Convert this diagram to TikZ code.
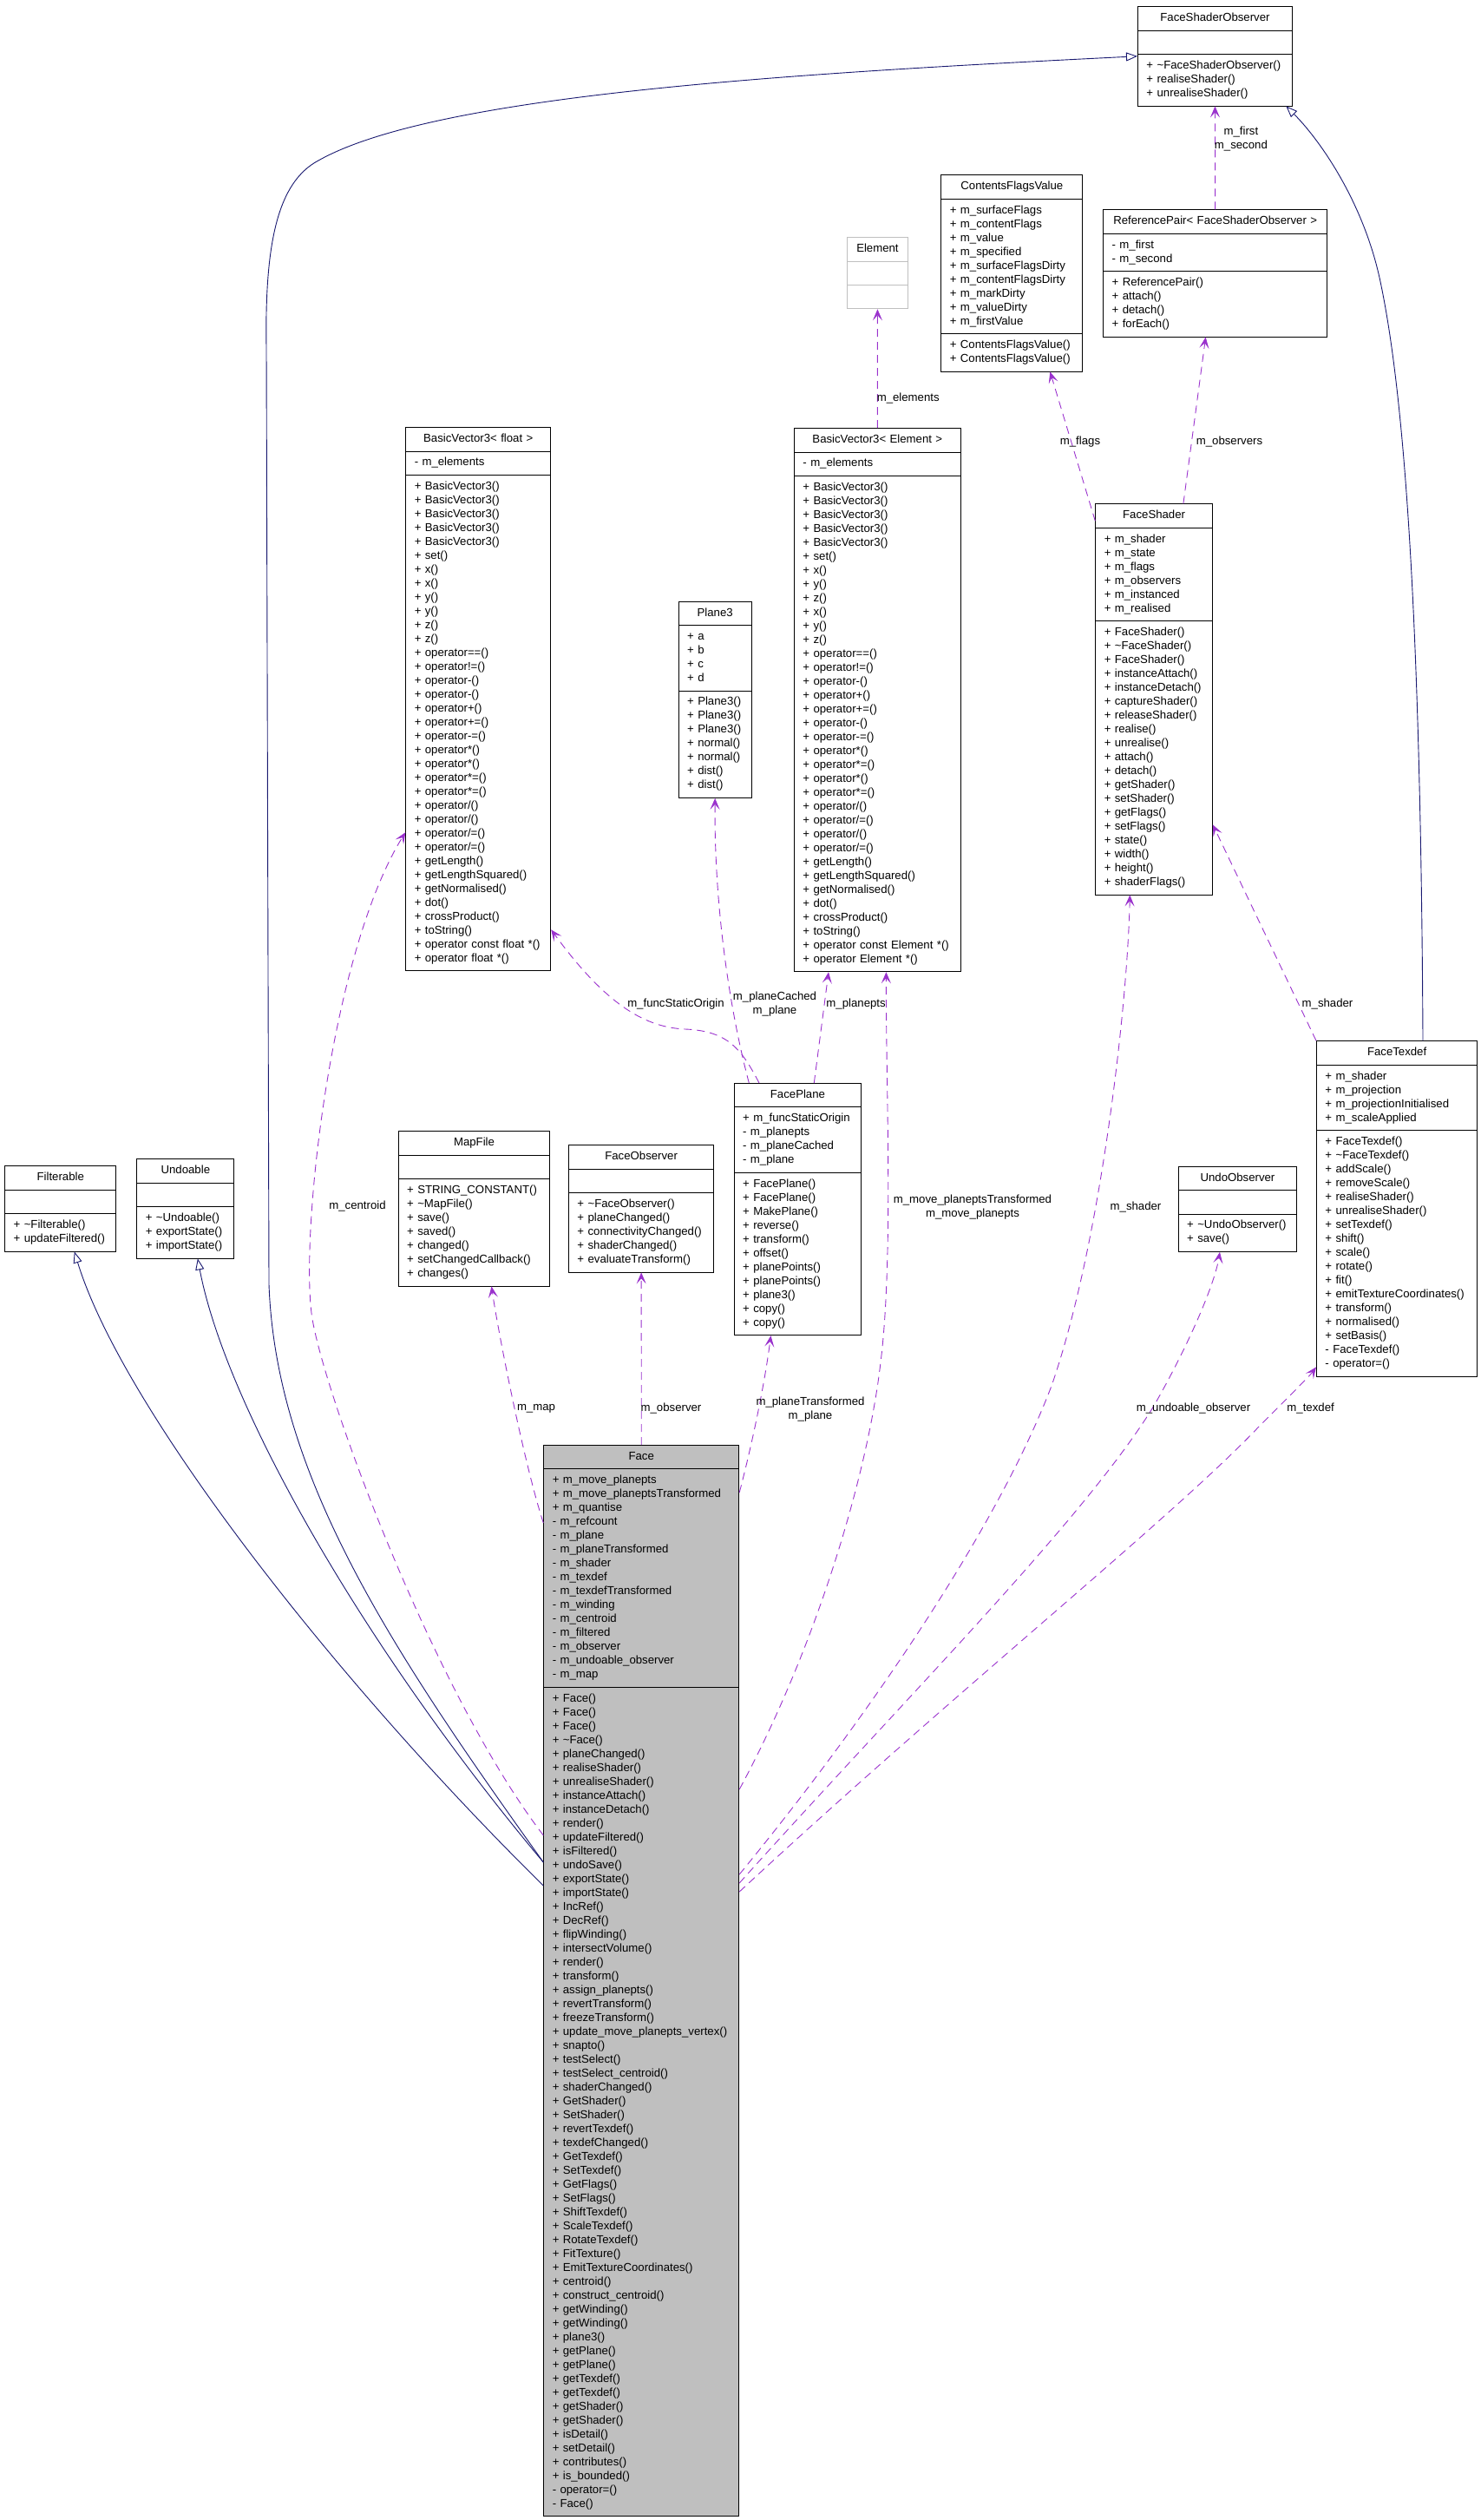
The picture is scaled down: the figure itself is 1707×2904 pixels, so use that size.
\documentclass[tikz,border=0pt]{standalone}
\usepackage{fontspec}
\setmainfont{Liberation Sans}
\usepackage{tikz}
\usetikzlibrary{arrows.meta,shapes.multipart}
\definecolor{navyline}{HTML}{191970}
\definecolor{usecol}{HTML}{9A32CD}
\definecolor{facegray}{HTML}{BFBFBF}

\begin{document}
\begin{tikzpicture}[
  x=1pt,y=-1pt,
  font=\fontsize{13.2}{16}\selectfont,
  cls/.style={rectangle split,rectangle split parts=3,draw=black,line width=0.9pt,
    inner xsep=10pt,inner ysep=5.25pt,align=left,anchor=north west,
    every text node part/.style={align=center},
    execute at begin node=\strut,execute at end node=\strut},
  ghost/.style={cls,draw=facegray},
  base/.style={cls,fill=facegray},
  lbl/.style={inner sep=0pt,align=center},
  inh/.style={draw=navyline,line width=0.9pt,-{Triangle[open,length=13pt,width=10pt]}},
  dep/.style={draw=usecol,line width=0.9pt,dash pattern=on 9pt off 6pt,-{Stealth[length=13pt,width=11pt,inset=6pt]}}
]
\useasboundingbox (0,0) rectangle (1707,2904);

% classes
\node[cls,text width=158pt] (fso) at (1311,7.3) {FaceShaderObserver\nodepart{two}\nodepart{three}+ \textasciitilde FaceShaderObserver()\\+ realiseShader()\\+ unrealiseShader()};
\node[cls,text width=143pt] (cfv) at (1084.4,201.3) {ContentsFlagsValue\nodepart{two}+ m\_surfaceFlags\\+ m\_contentFlags\\+ m\_value\\+ m\_specified\\+ m\_surfaceFlagsDirty\\+ m\_contentFlagsDirty\\+ m\_markDirty\\+ m\_valueDirty\\+ m\_firstValue\nodepart{three}+ ContentsFlagsValue()\\+ ContentsFlagsValue()};
\node[cls,text width=238pt] (refpair) at (1271.2,241.3) {ReferencePair< FaceShaderObserver >\nodepart{two}- m\_first\\- m\_second\nodepart{three}+ ReferencePair()\\+ attach()\\+ detach()\\+ forEach()};
\node[ghost,text width=50.6pt] (element) at (975.7,273.2) {Element\nodepart{two}\nodepart{three}};
\node[cls,text width=171.7pt] (bve) at (915,493.1) {BasicVector3< Element >\nodepart{two}- m\_elements\nodepart{three}+ BasicVector3()\\+ BasicVector3()\\+ BasicVector3()\\+ BasicVector3()\\+ BasicVector3()\\+ set()\\+ x()\\+ y()\\+ z()\\+ x()\\+ y()\\+ z()\\+ operator==()\\+ operator!=()\\+ operator-()\\+ operator+()\\+ operator+=()\\+ operator-()\\+ operator-=()\\+ operator*()\\+ operator*=()\\+ operator*()\\+ operator*=()\\+ operator/()\\+ operator/=()\\+ operator/()\\+ operator/=()\\+ getLength()\\+ getLengthSquared()\\+ getNormalised()\\+ dot()\\+ crossProduct()\\+ toString()\\+ operator const Element *()\\+ operator Element *()};
\node[cls,text width=147pt] (bvf) at (467.3,492.2) {BasicVector3< float >\nodepart{two}- m\_elements\nodepart{three}+ BasicVector3()\\+ BasicVector3()\\+ BasicVector3()\\+ BasicVector3()\\+ BasicVector3()\\+ set()\\+ x()\\+ x()\\+ y()\\+ y()\\+ z()\\+ z()\\+ operator==()\\+ operator!=()\\+ operator-()\\+ operator-()\\+ operator+()\\+ operator+=()\\+ operator-=()\\+ operator*()\\+ operator*()\\+ operator*=()\\+ operator*=()\\+ operator/()\\+ operator/()\\+ operator/=()\\+ operator/=()\\+ getLength()\\+ getLengthSquared()\\+ getNormalised()\\+ dot()\\+ crossProduct()\\+ toString()\\+ operator const float *()\\+ operator float *()};
\node[cls,text width=64pt] (plane3) at (781.7,692.8) {Plane3\nodepart{two}+ a\\+ b\\+ c\\+ d\nodepart{three}+ Plane3()\\+ Plane3()\\+ Plane3()\\+ normal()\\+ normal()\\+ dist()\\+ dist()};
\node[cls,text width=114.7pt] (faceshader) at (1262.3,580.3) {FaceShader\nodepart{two}+ m\_shader\\+ m\_state\\+ m\_flags\\+ m\_observers\\+ m\_instanced\\+ m\_realised\nodepart{three}+ FaceShader()\\+ \textasciitilde FaceShader()\\+ FaceShader()\\+ instanceAttach()\\+ instanceDetach()\\+ captureShader()\\+ releaseShader()\\+ realise()\\+ unrealise()\\+ attach()\\+ detach()\\+ getShader()\\+ setShader()\\+ getFlags()\\+ setFlags()\\+ state()\\+ width()\\+ height()\\+ shaderFlags()};
\node[cls,text width=165.3pt] (facetexdef) at (1517,1199.3) {FaceTexdef\nodepart{two}+ m\_shader\\+ m\_projection\\+ m\_projectionInitialised\\+ m\_scaleApplied\nodepart{three}+ FaceTexdef()\\+ \textasciitilde FaceTexdef()\\+ addScale()\\+ removeScale()\\+ realiseShader()\\+ unrealiseShader()\\+ setTexdef()\\+ shift()\\+ scale()\\+ rotate()\\+ fit()\\+ emitTextureCoordinates()\\+ transform()\\+ normalised()\\+ setBasis()\\- FaceTexdef()\\- operator=()};
\node[cls,text width=116.6pt] (undoobs) at (1357.7,1343.7) {UndoObserver\nodepart{two}\nodepart{three}+ \textasciitilde UndoObserver()\\+ save()};
\node[cls,text width=108.2pt] (filterable) at (5.2,1343.3) {Filterable\nodepart{two}\nodepart{three}+ \textasciitilde Filterable()\\+ updateFiltered()};
\node[cls,text width=92pt] (undoable) at (157.4,1335.3) {Undoable\nodepart{two}\nodepart{three}+ \textasciitilde Undoable()\\+ exportState()\\+ importState()};
\node[cls,text width=154.7pt] (mapfile) at (458.7,1303.3) {MapFile\nodepart{two}\nodepart{three}+ STRING\_CONSTANT()\\+ \textasciitilde MapFile()\\+ save()\\+ saved()\\+ changed()\\+ setChangedCallback()\\+ changes()};
\node[cls,text width=147.4pt] (faceobs) at (655,1319.3) {FaceObserver\nodepart{two}\nodepart{three}+ \textasciitilde FaceObserver()\\+ planeChanged()\\+ connectivityChanged()\\+ shaderChanged()\\+ evaluateTransform()};
\node[cls,text width=126.6pt] (faceplane) at (845.7,1248) {FacePlane\nodepart{two}+ m\_funcStaticOrigin\\- m\_planepts\\- m\_planeCached\\- m\_plane\nodepart{three}+ FacePlane()\\+ FacePlane()\\+ MakePlane()\\+ reverse()\\+ transform()\\+ offset()\\+ planePoints()\\+ planePoints()\\+ plane3()\\+ copy()\\+ copy()};
\node[base,text width=205pt] (face) at (626.3,1665) {Face\nodepart{two}+ m\_move\_planepts\\+ m\_move\_planeptsTransformed\\+ m\_quantise\\- m\_refcount\\- m\_plane\\- m\_planeTransformed\\- m\_shader\\- m\_texdef\\- m\_texdefTransformed\\- m\_winding\\- m\_centroid\\- m\_filtered\\- m\_observer\\- m\_undoable\_observer\\- m\_map\nodepart{three}+ Face()\\+ Face()\\+ Face()\\+ \textasciitilde Face()\\+ planeChanged()\\+ realiseShader()\\+ unrealiseShader()\\+ instanceAttach()\\+ instanceDetach()\\+ render()\\+ updateFiltered()\\+ isFiltered()\\+ undoSave()\\+ exportState()\\+ importState()\\+ IncRef()\\+ DecRef()\\+ flipWinding()\\+ intersectVolume()\\+ render()\\+ transform()\\+ assign\_planepts()\\+ revertTransform()\\+ freezeTransform()\\+ update\_move\_planepts\_vertex()\\+ snapto()\\+ testSelect()\\+ testSelect\_centroid()\\+ shaderChanged()\\+ GetShader()\\+ SetShader()\\+ revertTexdef()\\+ texdefChanged()\\+ GetTexdef()\\+ SetTexdef()\\+ GetFlags()\\+ SetFlags()\\+ ShiftTexdef()\\+ ScaleTexdef()\\+ RotateTexdef()\\+ FitTexture()\\+ EmitTextureCoordinates()\\+ centroid()\\+ construct\_centroid()\\+ getWinding()\\+ getWinding()\\+ plane3()\\+ getPlane()\\+ getPlane()\\+ getTexdef()\\+ getTexdef()\\+ getShader()\\+ getShader()\\+ isDetail()\\+ setDetail()\\+ contributes()\\+ is\_bounded()\\- operator=()\\- Face()};

% inheritance
\draw[inh] ([yshift=-481pt]face.north west) .. controls (450,1900) and (318,1700) .. (310,1480) -- (307,400) .. controls (305,280) and (320,210) .. (367,185) .. controls (500,110) and (900,85) .. ([yshift=-57.5pt]fso.north west);
\draw[inh] ([yshift=-508pt]face.north west) .. controls (380,1930) and (140,1620) .. ([xshift=16pt]filterable.south);
\draw[inh] ([yshift=-481pt]face.north west) .. controls (420,1900) and (260,1620) .. ([xshift=14pt]undoable.south);
\draw[inh] ([xshift=123pt]facetexdef.north west) .. controls (1638,800) and (1625,480) .. (1590,320) .. controls (1570,230) and (1520,160) .. ([xshift=-7.5pt]fso.south east);

% usage
\draw[dep] (refpair.north) -- (fso.south);
\draw[dep] (bve.north) -- (element.south);
\draw[dep] ([yshift=-20pt]faceshader.north west) -- ([xshift=-38pt]cfv.south east);
\draw[dep] ([xshift=-34pt]faceshader.north east) -- ([xshift=-11pt]refpair.south);
\draw[dep] (facetexdef.north west) -- ([yshift=81pt]faceshader.south east);
\draw[dep] ([xshift=17.6pt]faceplane.north west) .. controls (840,1160) and (823,1040) .. (plane3.south);
\draw[dep] ([xshift=92.6pt]faceplane.north west) -- ([xshift=40pt]bve.south west);
\draw[dep] ([xshift=29.3pt]faceplane.north west) .. controls (855,1210) and (840,1188) .. (790,1186) .. controls (745,1184) and (700,1160) .. ([yshift=48pt]bvf.south east);
\draw[dep] ([yshift=-450pt]face.north west) .. controls (500,1950) and (375,1610) .. (360,1520) .. controls (345,1430) and (380,1100) .. ([yshift=-467pt]bvf.north west);
\draw[dep] ([yshift=-90pt]face.north west) .. controls (605,1690) and (575,1540) .. ([xshift=20pt]mapfile.south);
\draw[dep] (face.north) -- (faceobs.south);
\draw[dep] ([yshift=-55pt]face.north east) .. controls (868,1660) and (882,1590) .. ([xshift=-31pt]faceplane.south);
\draw[dep] ([yshift=-397pt]face.north east) .. controls (940,1900) and (1000,1700) .. (1015,1570) .. controls (1030,1450) and (1021,1250) .. ([xshift=106.4pt]bve.south west);
\draw[dep] ([yshift=-495pt]face.north east) .. controls (1000,1980) and (1150,1760) .. (1212,1597) .. controls (1270,1430) and (1300,1150) .. ([xshift=40pt]faceshader.south west);
\draw[dep] ([yshift=-505pt]face.north east) .. controls (1050,1950) and (1250,1750) .. (1330,1620) .. controls (1370,1550) and (1400,1480) .. ([xshift=48.3pt]undoobs.south west);
\draw[dep] ([yshift=-515pt]face.north east) .. controls (1100,1950) and (1350,1750) .. (1450,1645) .. controls (1490,1605) and (1510,1585) .. ([yshift=11pt]facetexdef.south west);

% labels
\node[lbl] (lfirst) at (1430.4,159.7) {m\_first\\m\_second};
\node[lbl] (lelem) at (1046.7,458.6) {m\_elements};
\node[lbl] (lflags) at (1245,509) {m\_flags};
\node[lbl] (lobs) at (1417,509) {m\_observers};
\node[lbl] (lorigin) at (779,1157) {m\_funcStaticOrigin};
\node[lbl] (lcached) at (893,1157) {m\_planeCached\\m\_plane};
\node[lbl] (lpts) at (986.6,1157) {m\_planepts};
\node[lbl] (ltexshader) at (1530,1157) {m\_shader};
\node[lbl] (lcentroid) at (412,1390) {m\_centroid};
\node[lbl] (lmove) at (1121,1391) {m\_move\_planeptsTransformed\\m\_move\_planepts};
\node[lbl] (lshader) at (1309,1391) {m\_shader};
\node[lbl] (lmap) at (618,1623.5) {m\_map};
\node[lbl] (lobserver) at (773.5,1623.5) {m\_observer};
\node[lbl] (lplanetr) at (934,1624) {m\_planeTransformed\\m\_plane};
\node[lbl] (lundo) at (1375.5,1623.5) {m\_undoable\_observer};
\node[lbl] (ltexdef) at (1510.6,1623.5) {m\_texdef};
\end{tikzpicture}
\end{document}
